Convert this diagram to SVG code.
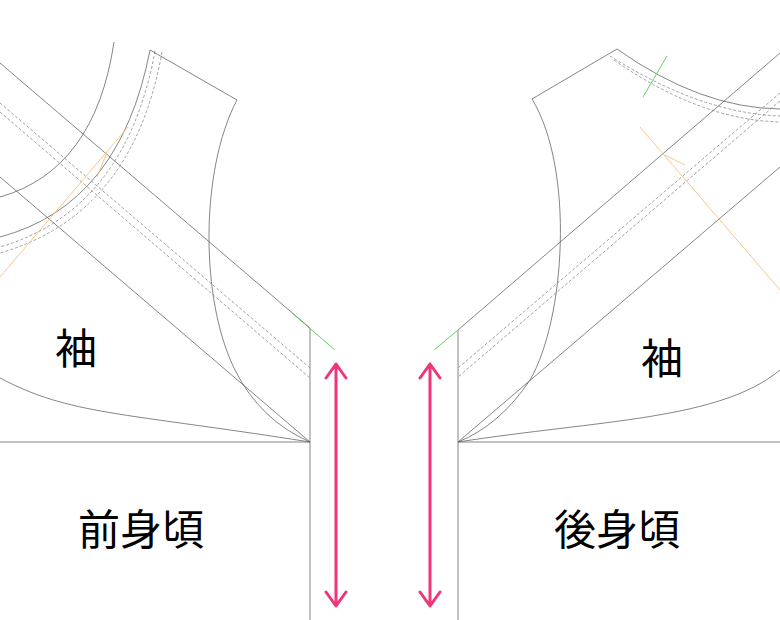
<svg xmlns="http://www.w3.org/2000/svg" width="780" height="620" viewBox="0 0 780 620">
<defs>
<style>
.l{fill:none;stroke:#666;stroke-width:0.8}
.d{fill:none;stroke:#888;stroke-width:0.8;stroke-dasharray:3 2}
.o{fill:none;stroke:#f5c27a;stroke-width:0.9}
.g{fill:none;stroke:#5c5;stroke-width:0.9}
.p{fill:none;stroke:#f0357a;stroke-width:3;stroke-linecap:round;stroke-linejoin:round}
text{font-family:"Noto Sans CJK JP",sans-serif;font-size:42px;fill:#000}
</style>
</defs>
<rect width="780" height="620" fill="#fff"/>
<g id="left">
<path class="l" d="M114,42 Q95,170 0,197"/>
<path class="l" d="M150,50 Q120,205 0,237"/>
<path class="d" d="M155,51 Q126,210 0,247"/>
<path class="d" d="M162,52 Q133,215 0,253"/>
<path class="l" d="M150,50 L237,100 C200,170 200,300 235,370 Q260,420 310,442"/>
<path class="l" d="M0,63 L310,328 V620"/>
<path class="l" d="M0,177 L310,442"/>
<path class="d" d="M0,103 L310,368"/>
<path class="d" d="M0,112 L310,378"/>
<path class="l" d="M0,442 H310"/>
<path class="l" d="M0,378 C70,415 120,412 310,442"/>
<path class="o" d="M0,277 L128,127 M97,177 L107,152"/>
<path class="g" d="M292,313 L335,350"/>
<text x="55" y="364" font-size="40">袖</text>
<text x="78" y="545">前身頃</text>
</g>
<g id="right">
<path class="l" d="M617,49 Q700,108 780,109"/>
<path class="d" d="M610,56 Q700,113 780,116"/>
<path class="d" d="M614,60 Q700,120 780,122"/>
<path class="l" d="M617,49 L532,99 C575,170 565,320 530,380 Q500,425 458,442"/>
<path class="l" d="M780,53 L458,330 V620"/>
<path class="l" d="M780,167 L458,442"/>
<path class="d" d="M780,93 L458,368"/>
<path class="d" d="M780,101 L458,377"/>
<path class="l" d="M458,442 H780"/>
<path class="l" d="M458,442 C600,420 720,420 780,370"/>
<path class="o" d="M640,127 L780,290 M665,155 L685,165"/>
<path class="g" d="M667,56 L643,97 M458,330 L434,350"/>
<text x="641" y="374" font-size="40">袖</text>
<text x="554" y="545">後身頃</text>
</g>
<g id="connectors">
<path class="p" d="M336,364 V606 M326,378 L336,364 L346,378 M326,592 L336,606 L346,592"/>
<path class="p" d="M430,364 V606 M420,378 L430,364 L440,378 M420,592 L430,606 L440,592"/>
</g>
</svg>
